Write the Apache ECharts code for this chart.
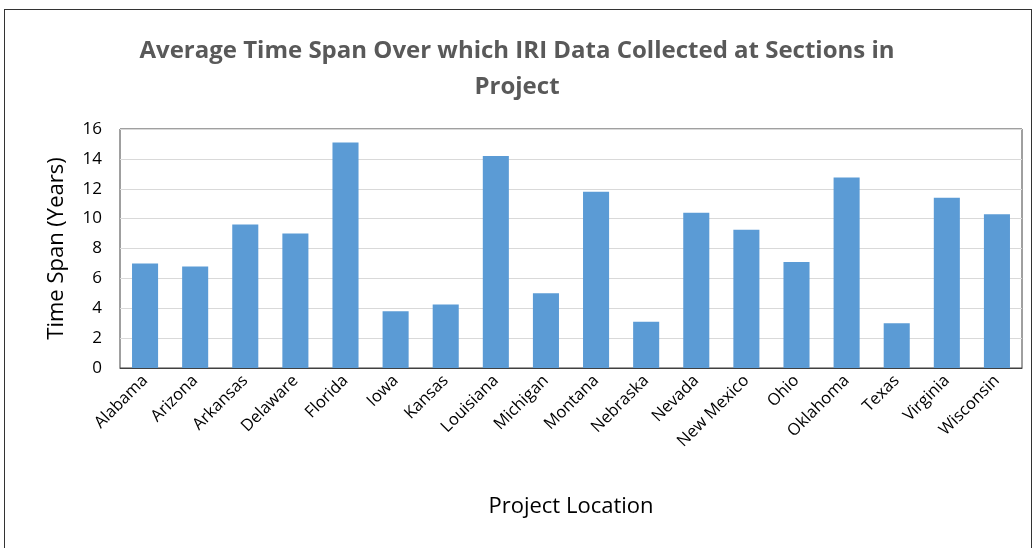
<!DOCTYPE html>
<html>
<head>
<meta charset="utf-8">
<script src="https://cdn.jsdelivr.net/npm/echarts@6/dist/echarts.min.js"></script>
<style>
  html, body { margin: 0; padding: 0; background: #fff; }
  #frame { position: absolute; left: 4px; top: 9px; width: 1026px; height: 560px; border: 1px solid #333; }
  #chart { position: absolute; left: 0; top: 0; width: 1034px; height: 548px; }
</style>
</head>
<body>
<div id="frame"></div>
<div id="chart"></div>
<script>
// values
const states = ['Alabama', 'Arizona', 'Arkansas', 'Delaware', 'Florida', 'Iowa', 'Kansas',
  'Louisiana', 'Michigan', 'Montana', 'Nebraska', 'Nevada', 'New Mexico', 'Ohio',
  'Oklahoma', 'Texas', 'Virginia', 'Wisconsin'];
const spanYears = [7.0, 6.8, 9.6, 9.0, 15.1, 3.8, 4.25, 14.2, 5.0, 11.8, 3.1, 10.4, 9.25, 7.1, 12.75, 3.0, 11.4, 10.3];

const chart = echarts.init(document.getElementById('chart'));

const option = {
  animation: false,
  title: {
    text: 'Average Time Span Over which IRI Data Collected at Sections in\nProject',
    left: 'center',
    top: 28,
    textStyle: {
      fontFamily: 'Open Sans',
      fontSize: 24,
      fontWeight: 'bold',
      color: '#595959',
      lineHeight: 36
    }
  },
  grid: {
    left: 120,
    top: 129,
    right: 12,
    bottom: 180,
    show: true,
    borderColor: '#404040',
    borderWidth: 1
  },
  xAxis: {
    type: 'category',
    data: states,
    name: 'Project Location',
    nameLocation: 'middle',
    nameGap: 128,
    nameTextStyle: { fontFamily: 'Open Sans', fontSize: 22, color: '#000' },
    axisTick: { show: false },
    axisLine: { lineStyle: { color: '#404040' } },
    axisLabel: {
      rotate: 45,
      interval: 0,
      margin: 10,
      fontFamily: 'Open Sans',
      fontSize: 16.5,
      color: '#000'
    }
  },
  yAxis: {
    type: 'value',
    min: 0,
    max: 16,
    interval: 2,
    name: 'Time Span (Years)',
    nameLocation: 'middle',
    nameGap: 52,
    nameTextStyle: { fontFamily: 'Open Sans', fontSize: 22, color: '#000' },
    axisLine: { show: false },
    axisTick: { show: false },
    axisLabel: { fontFamily: 'Open Sans', fontSize: 17, color: '#000', margin: 18 },
    splitLine: { lineStyle: { color: '#d9d9d9' } }
  },
  series: [{
    type: 'bar',
    data: spanYears,
    barWidth: '52%',
    itemStyle: { color: '#5b9bd5' }
  }]
};

chart.setOption(option);
</script>
</body>
</html>
